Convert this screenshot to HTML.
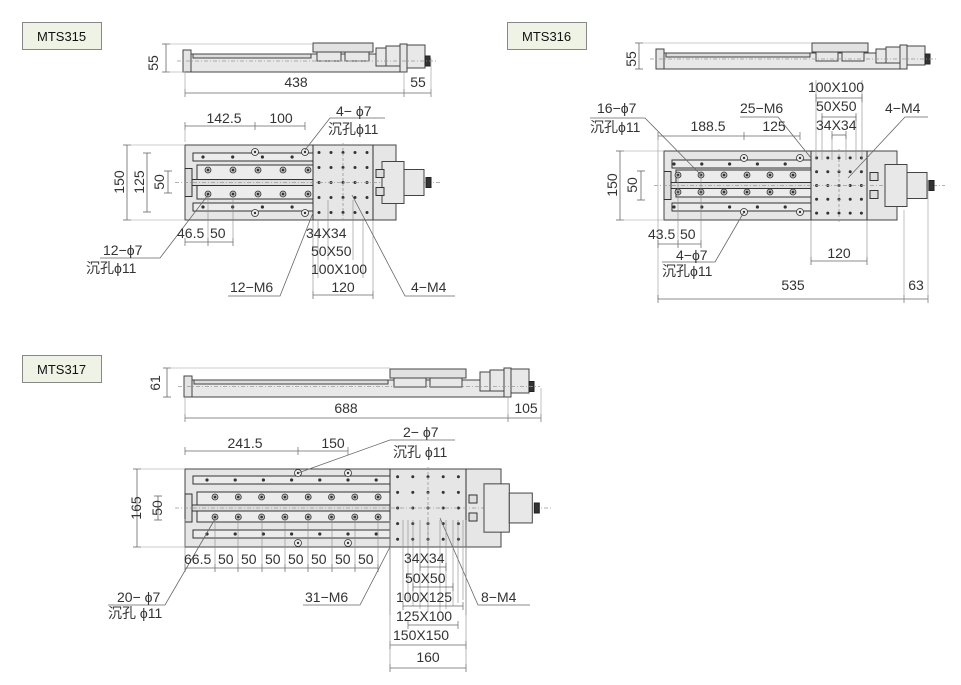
<!DOCTYPE html>
<html><head><meta charset="utf-8">
<style>
html,body{margin:0;padding:0;background:#fff;}
svg{display:block;}
text{font-family:"Liberation Sans","Noto Sans CJK SC",sans-serif;font-size:14px;fill:#333;}
.lbl{font-size:13px;fill:#111;}
</style></head><body>
<svg id="s" width="961" height="685" viewBox="0 0 961 685" xmlns="http://www.w3.org/2000/svg">
<g stroke="#888" fill="#eef3e6" stroke-width="1">
<rect x="22.5" y="22.5" width="79" height="27"/>
<rect x="507.5" y="22.5" width="79" height="27"/>
<rect x="22.5" y="355.5" width="79" height="27"/>
</g>
<text class="lbl" x="37" y="41">MTS315</text>
<text class="lbl" x="522" y="41">MTS316</text>
<text class="lbl" x="37" y="374">MTS317</text>
<g id="g"></g>
<g id="t">
<text x="158" y="63" transform="rotate(-90 158 63)" text-anchor="middle">55</text>
<text x="296" y="87" text-anchor="middle">438</text>
<text x="418" y="87" text-anchor="middle">55</text>
<text x="224" y="123" text-anchor="middle">142.5</text>
<text x="281" y="123" text-anchor="middle">100</text>
<text x="336" y="116">4− ϕ7</text>
<text x="328" y="134">沉孔ϕ11</text>
<text x="124" y="182" transform="rotate(-90 124 182)" text-anchor="middle">150</text>
<text x="144" y="182" transform="rotate(-90 144 182)" text-anchor="middle">125</text>
<text x="164" y="182" transform="rotate(-90 164 182)" text-anchor="middle">50</text>
<text x="177" y="238">46.5</text><text x="210" y="238">50</text>
<text x="103" y="255">12−ϕ7</text>
<text x="86" y="273">沉孔ϕ11</text>
<text x="306" y="238">34X34</text>
<text x="311" y="256">50X50</text>
<text x="311" y="274">100X100</text>
<text x="343" y="292" text-anchor="middle">120</text>
<text x="230" y="292">12−M6</text>
<text x="411" y="292">4−M4</text>
<text x="636" y="59" transform="rotate(-90 636 59)" text-anchor="middle">55</text>
<text x="808" y="92">100X100</text>
<text x="816" y="111">50X50</text>
<text x="816" y="130">34X34</text>
<text x="597" y="113">16−ϕ7</text>
<text x="590" y="132">沉孔ϕ11</text>
<text x="708" y="131" text-anchor="middle">188.5</text>
<text x="774" y="131" text-anchor="middle">125</text>
<text x="740" y="113">25−M6</text>
<text x="885" y="113">4−M4</text>
<text x="617" y="185" transform="rotate(-90 617 185)" text-anchor="middle">150</text>
<text x="637" y="185" transform="rotate(-90 637 185)" text-anchor="middle">50</text>
<text x="648" y="239">43.5</text><text x="680" y="239">50</text>
<text x="839" y="258" text-anchor="middle">120</text>
<text x="676" y="260">4−ϕ7</text>
<text x="662" y="276">沉孔ϕ11</text>
<text x="793" y="290" text-anchor="middle">535</text>
<text x="916" y="290" text-anchor="middle">63</text>
<text x="160" y="383" transform="rotate(-90 160 383)" text-anchor="middle">61</text>
<text x="346" y="413" text-anchor="middle">688</text>
<text x="526" y="413" text-anchor="middle">105</text>
<text x="245" y="448" text-anchor="middle">241.5</text>
<text x="333" y="448" text-anchor="middle">150</text>
<text x="403" y="437">2− ϕ7</text>
<text x="393" y="457">沉孔 ϕ11</text>
<text x="141" y="508" transform="rotate(-90 141 508)" text-anchor="middle">165</text>
<text x="162" y="508" transform="rotate(-90 162 508)" text-anchor="middle">50</text>
<text x="184" y="564">66.5</text>
<text x="218" y="564">50</text><text x="241" y="564">50</text><text x="265" y="564">50</text><text x="288" y="564">50</text><text x="311" y="564">50</text><text x="335" y="564">50</text><text x="358" y="564">50</text>
<text x="117" y="602">20− ϕ7</text>
<text x="108" y="618">沉孔 ϕ11</text>
<text x="305" y="602">31−M6</text>
<text x="481" y="602">8−M4</text>
<text x="404" y="563">34X34</text>
<text x="405" y="583">50X50</text>
<text x="396" y="602">100X125</text>
<text x="396" y="621">125X100</text>
<text x="393" y="640">150X150</text>
<text x="428" y="662" text-anchor="middle">160</text>
</g>
</svg>
<script>
(function(){
var G=document.getElementById('g'),h='';
function L(x1,y1,x2,y2,c,w,d){h+='<line x1="'+x1+'" y1="'+y1+'" x2="'+x2+'" y2="'+y2+'" stroke="'+(c||'#666')+'" stroke-width="'+(w||0.8)+'"'+(d?' stroke-dasharray="'+d+'"':'')+'/>';}
function R(x,y,w,hh,f,c,sw){h+='<rect x="'+x+'" y="'+y+'" width="'+w+'" height="'+hh+'" fill="'+(f||'#e6e6e6')+'" stroke="'+(c||'#444')+'" stroke-width="'+(sw||1)+'"/>';}
function C(x,y,r,f,c){h+='<circle cx="'+x+'" cy="'+y+'" r="'+r+'" fill="'+(f||'#333')+'" stroke="'+(c||'none')+'" stroke-width="0.8"/>';}
function P(pts){h+='<polyline points="'+pts+'" fill="none" stroke="#666" stroke-width="0.8"/>';}
function sink(x,y){C(x,y,3,'#bbb','#333');C(x,y,1.3,'#333');}
function ring(x,y){C(x,y,3.5,'#eee','#333');C(x,y,1.2,'#333');}
function side(x0,x1,y0,y1,cx0,cx1,cy,mx,mtop){
 R(x0,y0+4,x1-x0,y1-y0-4,'#e8e8e8');
 R(x0-2,y0,8,y1-y0,'#e4e4e4');
 R(x0+8,y0+4,cx0-x0-10,4,'#ddd');
 R(cx0,cy,cx1-cx0,9,'#e2e2e2');
 R(cx0+4,cy+9,(cx1-cx0)/2-6,9,'#e8e8e8');R(cx0+(cx1-cx0)/2+2,cy+9,(cx1-cx0)/2-6,9,'#e8e8e8');
 R(mx,mtop+4,10,y1-mtop-10,'#e8e8e8');R(mx+10,mtop+2,14,y1-mtop-8,'#e8e8e8');
 R(mx+24,mtop,7,y1-mtop,'#e6e6e6');R(mx+31,mtop+1,18,y1-mtop-5,'#e8e8e8');
 R(mx+49,(y0+y1)/2-5,5,10,'#333','#222');
 L(x0-8,(y0+y1)/2,mx+60,(y0+y1)/2,'#999',0.8,'4 2 1 2');
}
side(185,404,50,72,313,373,43,376,44);
side(658,905,49,69,812,868,43,876,45);
side(186,508,376,397,390,466,369,480,368);
function dimH(y,xs){L(xs[0],y,xs[xs.length-1],y);xs.forEach(function(x){L(x,y-4,x,y+4,'#666',0.7);});}
function dimV(x,y0,y1){L(x,y0,x,y1);L(x-4,y0,x+4,y0);L(x-4,y1,x+4,y1);}
dimV(166,44,72);L(166,44,313,44,'#999',0.6);L(166,72,185,72,'#999',0.6);
dimH(93,[185,404,431]);L(185,72,185,97,'#999',0.6);L(404,72,404,97,'#999',0.6);L(431,58,431,97,'#999',0.6);
function topv(x0,x1,y0,y1,d1,d2,rows,hs,hsp,hn,ss,ssp,sn,mx,ms){
 ms=ms||1;
 R(x0,y0,x1-x0,y1-y0,'#e6e6e6');
 var cy=(y0+y1)/2;
 R(x0+8,rows[0],d1-x0-8,8,'#ececec','#333');R(x0+8,rows[3],d1-x0-8,8,'#ececec','#333');
 R(x0+12,rows[1],d1-x0-12,cy-rows[1]-3,'#ececec','#333');R(x0+12,cy+3,d1-x0-12,rows[2]-cy-3,'#ececec','#333');
 R(x0+6,cy-3,d1-x0-6,6,'#ddd','#333');
 R(x0,cy-14,7,28,'#ddd','#333');
 for(var i=0;i<hn;i++){var x=hs+i*hsp;C(x,rows[0]+4,1.6);C(x,rows[3]+4,1.6);}
 for(var j=0;j<sn;j++){var x2=ss+j*ssp;sink(x2,rows[1]+5);sink(x2,rows[2]-5);}
 L(d1,y0,d1,y1,'#333',1);L(d2,y0,d2,y1,'#333',1);
 var w=d2-d1;for(var a=0;a<5;a++)for(var b=0;b<5;b++){C(d1+w*(a+0.5)/5,y0+(y1-y0)*(b+0.5)/5,1.5);}
 L(x0-10,cy,mx+60*ms,cy,'#999',0.8,'4 2 1 2');L(d1+w/2,y0-2,d1+w/2,y1+2,'#999',0.8,'3 2');
 R(mx,cy-21*ms,22*ms,42*ms,'#e8e8e8');R(mx+22*ms,cy-13*ms,20*ms,26*ms,'#e8e8e8');R(mx+42*ms+2,cy-5,5,10,'#333','#222');
 R(d2+3,cy-13,8,8,'#ddd','#333');R(d2+3,cy+5,8,8,'#ddd','#333');
}
topv(185,396,145,220,313,373,[153,165,199,203],203,29.7,4,208,25,5,382);
ring(255,152);ring(305,152);ring(255,213);ring(305,213);
L(185,142,185,130,'#999',0.6);dimH(126,[185,255,305]);
dimV(127,145,220);dimV(147,153,212);dimV(168,171,193);L(127,145,185,145,'#999',.6);L(127,220,185,220,'#999',.6);
dimH(242,[185,208,233]);L(208,195,208,246,'#888',.6);L(233,195,233,246,'#888',.6);
P('305,150 330,118 385,118');P('208,195 160,258 100,258');
dimH(295,[313,373]);L(313,220,313,299,'#888',.6);L(373,220,373,299,'#888',.6);
L(318,220,318,278,'#888',.6);L(363,220,363,278,'#888',.6);L(328,200,328,260,'#888',.6);L(353,200,353,260,'#888',.6);
P('313,213 280,296 228,296');P('352,195 405,296 455,296');
dimV(639,43,69);L(639,43,812,43,'#999',.6);
topv(664,897,151,220,811,867,[160,170,197,203],674,27.8,5,678,23,6,885);
ring(744,158);ring(800,158);ring(744,212);ring(800,212);
dimH(136,[658,744,800]);L(658,136,658,300,'#999',.6);
dimV(620,151,220);dimV(641,171,200);L(620,151,664,151,'#999',.6);L(620,220,664,220,'#999',.6);
dimH(244,[658,678,701]);L(701,175,701,248,'#888',.6);L(678,175,678,248,'#888',.6);
P('701,175 645,118 590,118');P('744,212 715,262 662,262');
P('811,158 778,117 740,117');P('848,178 905,117 928,117');
dimH(261,[811,867]);L(811,220,811,265,'#888',.6);L(867,220,867,265,'#888',.6);
L(816,80,816,160,'#888',.6);L(862,80,862,160,'#888',.6);L(822,115,822,160,'#888',.6);L(856,115,856,160,'#888',.6);L(832,135,832,160,'#888',.6);L(846,135,846,160,'#888',.6);
dimH(98,[816,862]);dimH(117,[822,856]);dimH(135,[832,846]);
dimH(299,[658,904,928]);L(904,210,904,303,'#999',.6);L(928,180,928,303,'#999',.6);
dimV(167,368,397);L(167,368,390,368,'#999',.6);
dimH(418,[185,508,541]);L(185,397,185,422,'#999',.6);L(508,397,508,422,'#999',.6);L(541,388,541,422,'#999',.6);
topv(185,501,469,547,390,466,[476,492,522,530],207,28.2,7,215,23.3,8,484,1.15);
ring(298,473);ring(348,473);ring(298,543);ring(348,543);
dimH(451,[185,298,348]);
P('298,473 390,440 455,440');P('215,519 165,605 108,605');
dimV(137,469,547);dimV(158,496,520);L(137,469,185,469,'#999',.6);L(137,547,185,547,'#999',.6);
var xs=[185,215,238,262,285,308,332,355,378];dimH(568,xs);xs.forEach(function(x){L(x,519,x,572,'#888',.6);});
P('390,547 360,605 303,605');P('440,518 478,605 530,605');
[[403,463],[408,458],[413,453],[420,446],[428,440],[390,466]].forEach(function(p,i){L(p[0],520,p[0],600+i*3,'#888',.6);L(p[1],520,p[1],600+i*3,'#888',.6);});
dimH(567,[420,446]);dimH(587,[413,453]);dimH(606,[403,463]);dimH(625,[408,458]);dimH(645,[390,466]);dimH(668,[390,466]);
L(390,547,390,672,'#888',.6);L(466,547,466,672,'#888',.6);
G.innerHTML=h;
})();
</script>
</body></html>
